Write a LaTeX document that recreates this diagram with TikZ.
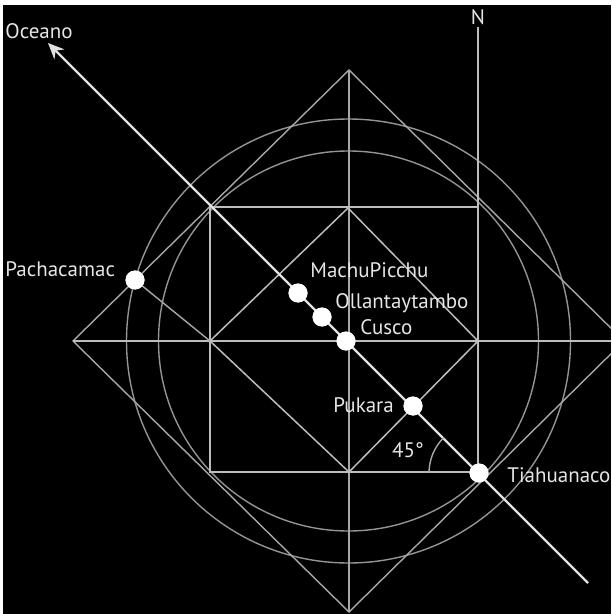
\documentclass[tikz,border=0pt]{standalone}
\usepackage{fontspec}
\setmainfont{PT Sans}
\usetikzlibrary{arrows.meta}
\definecolor{circgray}{gray}{0.58}
\definecolor{linegray}{gray}{0.66}
\definecolor{sqgray}{gray}{0.74}
\definecolor{txtgray}{gray}{0.9}
\begin{document}
\begin{tikzpicture}[x=0.5pt,y=-0.5pt,
  circ/.style={draw=circgray, line width=0.7pt},
  geo/.style={draw=linegray, line width=0.7pt},
  sqline/.style={draw=sqgray, line width=0.75pt},
  axisline/.style={draw=white!88!black, line width=1.2pt, -{Stealth[length=8pt,width=7pt]}},
  site/.style={circle, fill=white, minimum size=9.5pt, inner sep=0pt},
  lbl/.style={text=txtgray, font=\fontsize{10.5}{12}\selectfont, inner sep=0pt}]
\fill[white] (0,0) rectangle (611,614);
\fill[black] (3,5) rectangle (611,614);
\useasboundingbox (0,0) rectangle (611,614);
\begin{scope}
\clip (3,5) rectangle (611,614);
% key points
\coordinate (C) at (348.5,341);
\coordinate (SqTL) at (210,207);
\coordinate (SqTR) at (478,207);
\coordinate (SqBR) at (478,472);
\coordinate (SqBL) at (210,472);
\coordinate (DT) at (348,208);
\coordinate (DR) at (478,341);
\coordinate (DB) at (349,472);
\coordinate (DL) at (210,341);
\coordinate (OT) at (349,70);
\coordinate (OL) at (73,341);
\coordinate (OB) at (349,612);
\coordinate (OR) at (624,341);
\coordinate (HR) at (611,341);
\coordinate (Ntop) at (478,27);
\coordinate (Atip) at (48,43);
\coordinate (Aend) at (588,583);
% circles
\draw[circ] (C) circle[radius=190];
\draw[circ] (C) circle[radius=222];
% outer diamond
\draw[geo] (OT) -- (OR) -- (OB) -- (OL) -- cycle;
% axes
\draw[geo] (OT) -- (OB);
\draw[sqline] (OL) -- (HR);
% square and N line
\draw[sqline] (SqTL) -- (SqTR) -- (SqBR) -- (SqBL) -- cycle;
\draw[sqline] (Ntop) -- (SqTR);
% inner diamond
\draw[sqline] (DT) -- (DR) -- (DB) -- (DL) -- cycle;
% sites
\node[site] (Pach) at (135,280) {};
\node[site] (Machu) at (298,293) {};
\node[site] (Ollan) at (322,317) {};
\node[site] (Cusco) at (346,341) {};
\node[site] (Puka) at (413,406) {};
\node[site] (Tia) at (479,473) {};
\draw[geo] (Pach.center) -- (DL);
% main axis
\draw[axisline] (Aend) -- (Atip);
\node[site] at (Machu) {};
\node[site] at (Ollan) {};
\node[site] at (Cusco) {};
\node[site] at (Puka) {};
\node[site] at (Tia) {};
\node[site] at (Pach) {};
% 45 degree arc
\draw[geo] ([shift={(180:50)}]Tia.center) arc[start angle=180, end angle=225, radius=50];
% labels
\node[lbl, anchor=base west] (lOce) at (5,39) {Oceano};
\node[lbl, anchor=base] (lN) at (478,25) {N};
\node[lbl, anchor=base west] (lPach) at (5,277) {Pachacamac};
\node[lbl, anchor=base west] (lMachu) at (310,278) {MachuPicchu};
\node[lbl, anchor=base west] (lOllan) at (335,308) {Ollantaytambo};
\node[lbl, anchor=base west] (lCusco) at (360,334) {Cusco};
\node[lbl, anchor=base west] (lPuka) at (333,412) {Pukara};
\node[lbl, anchor=base] (l45) at (408,457) {45°};
\node[lbl, anchor=base west] (lTia) at (507,482) {Tiahuanaco};
\end{scope}
\end{tikzpicture}
\end{document}
